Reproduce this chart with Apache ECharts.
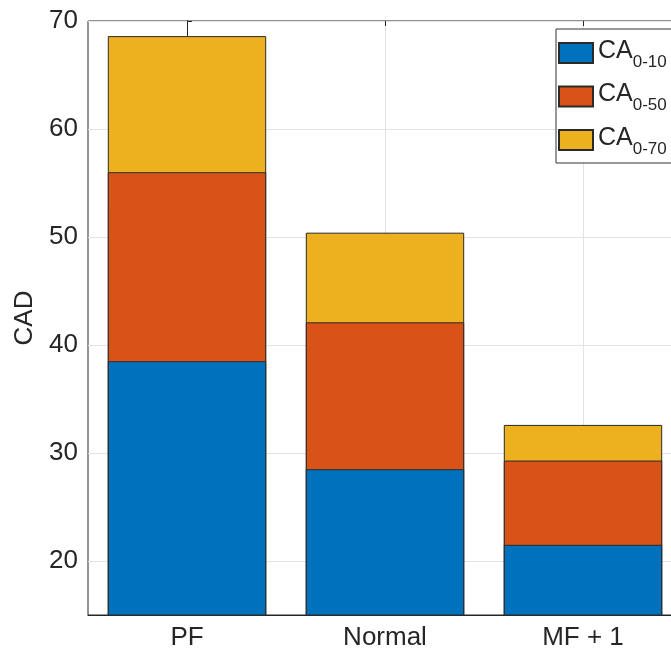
<!DOCTYPE html>
<html>
<head>
<meta charset="utf-8">
<script src="https://cdn.jsdelivr.net/npm/echarts@6/dist/echarts.min.js"></script>
<style>
html,body{margin:0;padding:0;background:#fff;overflow:hidden;width:671px;height:655px;}
#chart{width:700px;height:655px;}
</style>
</head>
<body>
<div id="chart"></div>
<script>
const categories = ['PF', 'Normal', 'MF + 1'];
const legendSubs = ['0-10', '0-50', '0-70'];
const ca010 = [38.5, 28.5, 21.5];
const ca050 = [56.0, 42.1, 29.3];
const ca070 = [68.6, 50.4, 32.6];
const yTicks = [20, 30, 40, 50, 60, 70];
const colors = ['#0072BD', '#D95319', '#EDB120'];

const FONT = 'Liberation Sans, Arial, Helvetica, sans-serif';
const AX = '#262626';
const names = legendSubs.map(s => 'CA' + s);

const chart = echarts.init(document.getElementById('chart'), null, {renderer: 'canvas'});

function barSeries(idx, data) {
  return {
    name: names[idx],
    type: 'bar',
    data: data,
    xAxisIndex: 0,
    yAxisIndex: 0,
    barGap: '-100%',
    barCategoryGap: '20%',
    itemStyle: {color: colors[idx], borderColor: '#2a2a2a', borderWidth: 1},
    emphasis: {disabled: true},
    animation: false
  };
}

chart.setOption({
  animation: false,
  textStyle: {fontFamily: FONT},
  grid: {left: 88, right: 18, top: 21, bottom: 40, show: true, borderColor: AX, borderWidth: 1, backgroundColor: 'transparent'},
  legend: {
    data: names,
    left: 556,
    top: 29,
    orient: 'vertical',
    itemWidth: 34,
    itemHeight: 20,
    itemGap: 8.5,
    padding: [6.5, 10, 5.5, 2],
    borderColor: '#333',
    borderWidth: 1,
    backgroundColor: '#fff',
    icon: 'rect',
    selectedMode: false,
    formatter: function (name) {
      const i = names.indexOf(name);
      return '{a|CA}{b|' + legendSubs[i] + '}';
    },
    textStyle: {
      color: AX,
      fontFamily: FONT,
      rich: {
        a: {fontSize: 25, lineHeight: 35, verticalAlign: 'top', padding: [3, 0, 0, 0], color: AX, fontFamily: FONT},
        b: {fontSize: 17, verticalAlign: 'bottom', color: AX, fontFamily: FONT}
      }
    }
  },
  xAxis: [
    {
      type: 'category',
      data: categories,
      position: 'bottom',
      axisLine: {show: true, lineStyle: {color: AX, width: 1}},
      axisTick: {show: false},
      axisLabel: {color: AX, fontSize: 26, fontFamily: FONT, margin: 10},
      splitLine: {show: false}
    },
    {
      type: 'value',
      min: -0.5,
      max: 2.5,
      position: 'top',
      axisLine: {show: false},
      axisLabel: {show: false},
      axisTick: {show: true, inside: true, length: 5, lineStyle: {color: AX}, customValues: [0, 1, 2]},
      splitLine: {show: true, lineStyle: {color: '#e3e3e3', width: 1}}
    }
  ],
  yAxis: {
    type: 'value',
    min: 15,
    max: 70,
    name: 'CAD',
    nameLocation: 'middle',
    nameGap: 48,
    nameTextStyle: {color: AX, fontSize: 26, fontFamily: FONT},
    axisLine: {show: true, lineStyle: {color: AX, width: 1}},
    axisTick: {show: true, inside: true, length: 5, lineStyle: {color: AX}, customValues: yTicks},
    axisLabel: {color: AX, fontSize: 26, fontFamily: FONT, margin: 10, customValues: yTicks},
    splitLine: {show: true, lineStyle: {color: '#e3e3e3', width: 1}}
  },
  series: [
    barSeries(2, ca070),
    barSeries(1, ca050),
    barSeries(0, ca010)
  ]
});
</script>
</body>
</html>
